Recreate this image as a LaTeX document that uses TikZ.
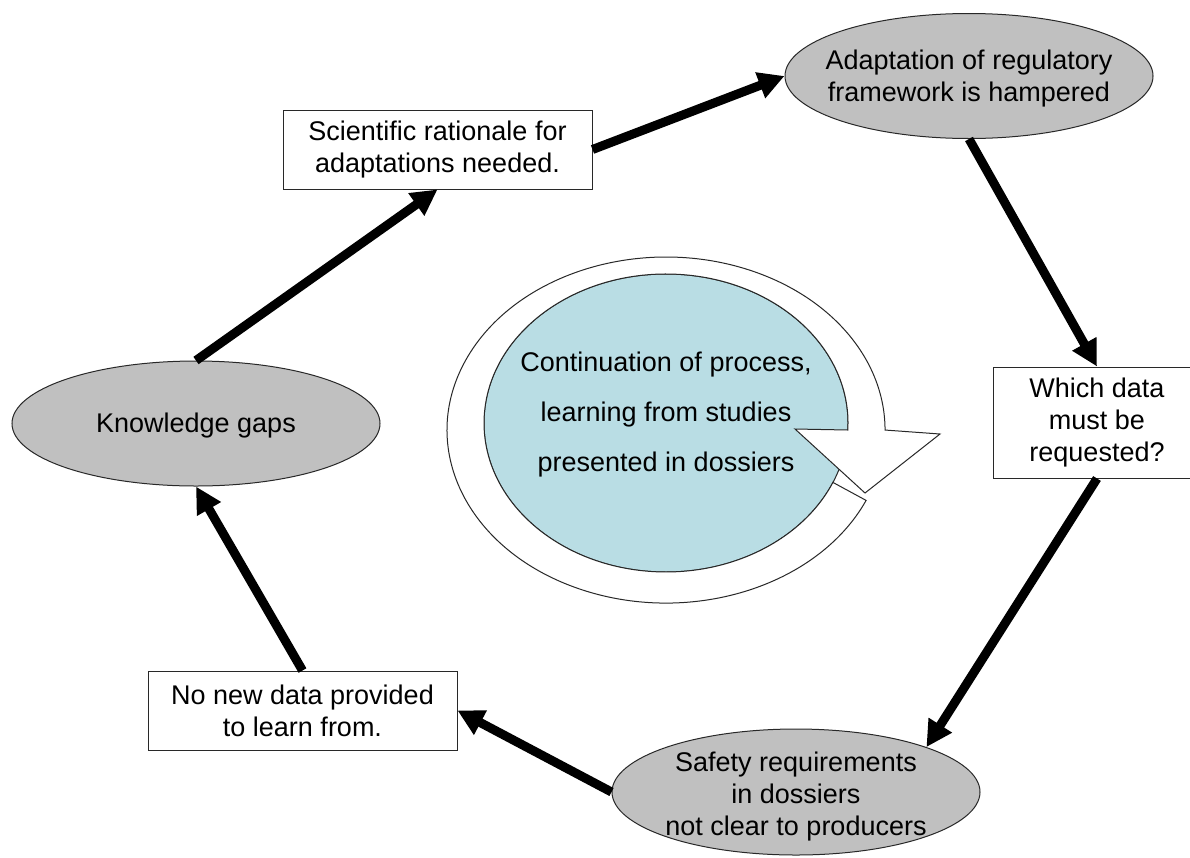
\documentclass[tikz,border=0pt]{standalone}
\usepackage{fontspec}
\setmainfont{Liberation Sans}
\usetikzlibrary{shapes.geometric,arrows.meta}
\definecolor{ellgray}{RGB}{192,192,192}
\definecolor{coreblue}{RGB}{185,221,228}
\definecolor{edge}{RGB}{40,40,40}
\begin{document}
\begin{tikzpicture}[x=1pt,y=1pt,
  txt/.style={font=\fontsize{27}{32}\selectfont, align=center, inner sep=0pt},
  gell/.style={ellipse, draw=edge, line width=1pt, fill=ellgray,
    minimum width=368pt, minimum height=125pt, inner sep=0pt},
  wbox/.style={rectangle, draw=edge, line width=1pt, fill=white, inner sep=0pt,
    font=\fontsize{27}{32}\selectfont, align=center},
  flow/.style={-{Triangle[length=26pt,width=26pt]}, line width=9pt, black},
  ring/.style={draw=edge, line width=1pt, fill=white, line join=miter}
]
\fill[white] (0,0) rectangle (1190,-857);
\useasboundingbox (0,0) rectangle (1190,-857);

% cycle nodes
\node[gell, label={[txt, yshift=-3pt]center:{Adaptation of regulatory\\framework is hampered}}] (adapt) at (969,-76) {};
\node[gell, label={[txt, yshift=-2pt]center:{Knowledge gaps}}] (kg) at (196,-423.5) {};
\node[gell, minimum height=126pt, label={[txt, yshift=-5pt]center:{Safety requirements\\in dossiers\\not clear to producers}}] (safety) at (796,-792) {};

\node[wbox, minimum width=309pt, minimum height=79pt] (sci) at (437.5,-149.5) {Scientific rationale for\\adaptations needed.};
\node[wbox, minimum width=208pt, minimum height=111pt] (which) at (1097,-422.5) {Which data\\must be\\requested?};
\node[wbox, minimum width=309pt, minimum height=79pt] (nonew) at (302.5,-710.5) {No new data provided\\to learn from.};

% connectors
\draw[flow] (kg.north) -- (sci.south);
\draw[flow] (sci.east) -- (adapt.west);
\draw[flow] (adapt.south) -- (which.north);
\draw[flow] (which.south) -- (safety.19);
\draw[flow] (safety.west) -- (nonew.east);
\draw[flow] (nonew.north) -- (kg.south);

% central circular arrow
\node[ellipse, draw=edge, line width=1pt, fill=coreblue, minimum width=364pt,
      minimum height=298pt, inner sep=0pt] (core) at (666,-423) {};
\draw[ring] (866.1,-500.4)
  arc[start angle=-24, end angle=-360, x radius=219, y radius=173]
  -- (940,-434) -- (865,-493) -- (795,-429) -- (847.8,-430)
  arc[start angle=-362.7, end angle=-23.5, x radius=182, y radius=149]
  -- cycle;
\node[txt, font=\fontsize{27}{50}\selectfont] (ctext) at (666,-415)
  {Continuation of process,\\learning from studies\\presented in dossiers};
\end{tikzpicture}
\end{document}
